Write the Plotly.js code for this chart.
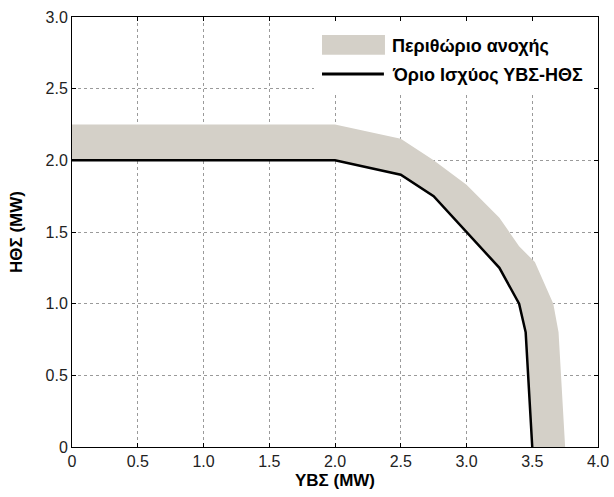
<!DOCTYPE html>
<html><head><meta charset="utf-8">
<script src="https://cdn.plot.ly/plotly-3.0.1.min.js"></script>
<style>html,body{margin:0;padding:0;background:#fff}</style>
</head><body>
<div id="chart" style="width:614px;height:497px"></div>
<script>
// Power limit curve (black line)
const limitX = [0, 2.0, 2.5, 2.75, 3.25, 3.4, 3.45, 3.5];
const limitY = [2.0, 2.0, 1.9, 1.75, 1.25, 1.0, 0.8, 0.0];
// Upper edge of tolerance margin band
const bandX = [0, 2.0, 2.5, 2.75, 3.0, 3.25, 3.4, 3.52, 3.66, 3.7, 3.75];
const bandY = [2.25, 2.25, 2.15, 2.0, 1.83, 1.6, 1.4, 1.29, 1.0, 0.8, 0.0];
const xTicks = [0, 0.5, 1.0, 1.5, 2.0, 2.5, 3.0, 3.5, 4.0];
const xTickText = ['0', '0.5', '1.0', '1.5', '2.0', '2.5', '3.0', '3.5', '4.0'];
const yTicks = [0, 0.5, 1.0, 1.5, 2.0, 2.5, 3.0];
const yTickText = ['0', '0.5', '1.0', '1.5', '2.0', '2.5', '3.0'];
const names = ['Περιθώριο ανοχής', 'Όριο Ισχύος ΥΒΣ-ΗΘΣ'];

const BAND = '#d4d0c8';
const FONT = 'Liberation Sans, Arial, sans-serif';

// closed polygon: upper edge forward, limit curve backward
const polyX = bandX.concat(limitX.slice().reverse());
const polyY = bandY.concat(limitY.slice().reverse());

const traces = [
  {x: polyX, y: polyY, type: 'scatter', mode: 'lines', fill: 'toself',
   fillcolor: BAND, line: {width: 0, color: BAND}, name: names[0], hoverinfo: 'skip'},
  {x: limitX, y: limitY, type: 'scatter', mode: 'lines',
   line: {color: '#000', width: 2.5}, name: names[1]}
];

const axisCommon = {
  showline: true, linecolor: '#000', linewidth: 1, mirror: 'ticks',
  ticks: 'inside', ticklen: 4, tickcolor: '#000',
  showgrid: true, gridcolor: '#9a9a9a', griddash: 'dot', gridwidth: 1,
  zeroline: false, tickfont: {family: FONT, size: 16, color: '#222'}
};

// manual legend (paper coordinates)
const shapes = [
  {type: 'rect', xref: 'paper', yref: 'paper', x0: 0.46, x1: 0.988, y0: 0.823, y1: 0.988,
   fillcolor: '#fff', line: {width: 0}, layer: 'above'},
  {type: 'rect', xref: 'paper', yref: 'paper', x0: 0.4753, x1: 0.595, y0: 0.912, y1: 0.958,
   fillcolor: BAND, line: {width: 0}, layer: 'above'},
  {type: 'line', xref: 'paper', yref: 'paper', x0: 0.4753, x1: 0.593, y0: 0.8674, y1: 0.8674,
   line: {color: '#000', width: 3}, layer: 'above'}
];
const annotations = [
  {xref: 'paper', yref: 'paper', x: 0.6046, y: 0.932, xanchor: 'left', yanchor: 'middle',
   text: names[0], showarrow: false, font: {family: FONT, size: 18, color: '#000', weight: 'bold'}},
  {xref: 'paper', yref: 'paper', x: 0.6046, y: 0.865, xanchor: 'left', yanchor: 'middle',
   text: names[1], showarrow: false, font: {family: FONT, size: 18, color: '#000', weight: 'bold'}}
];

const layout = {
  width: 614, height: 497,
  margin: {l: 72, r: 16, t: 17, b: 50},
  paper_bgcolor: '#fff', plot_bgcolor: '#fff',
  showlegend: false,
  shapes: shapes, annotations: annotations,
  xaxis: Object.assign({}, axisCommon, {
    range: [0, 4], tickvals: xTicks, ticktext: xTickText,
    title: {text: '<b>ΥΒΣ (MW)</b>', standoff: 4,
      font: {family: FONT, size: 17, color: '#000'}}
  }),
  yaxis: Object.assign({}, axisCommon, {
    range: [0, 3], tickvals: yTicks, ticktext: yTickText,
    title: {text: '<b>ΗΘΣ (MW)</b>', standoff: 18,
      font: {family: FONT, size: 17, color: '#000'}}
  })
};

Plotly.newPlot('chart', traces, layout, {displayModeBar: false, staticPlot: true});
</script>
</body></html>
